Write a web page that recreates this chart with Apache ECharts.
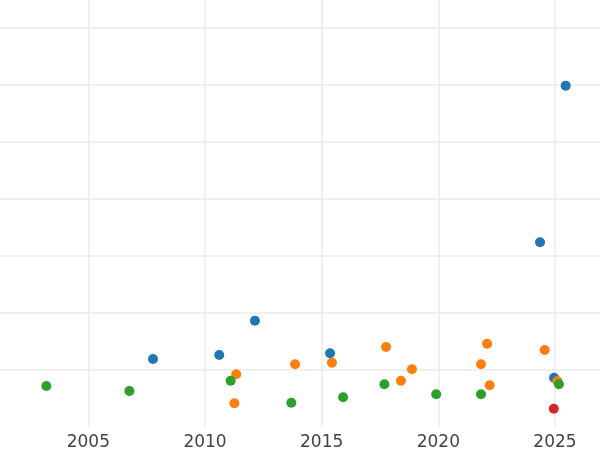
<!DOCTYPE html>
<html>
<head>
<meta charset="utf-8">
<style>html,body{margin:0;padding:0;background:#fff}#c{width:600px;height:450px}</style>
<script src="https://cdn.jsdelivr.net/npm/echarts@6/dist/echarts.min.js"></script>
</head>
<body>
<div id="c"></div>
<script>
const blueSeries = [[2007.77,1.193],[2010.61,1.263],[2012.14,1.865],[2015.36,1.293],[2024.36,3.240],[2025.46,5.988],[2024.96,0.865]];
const orangeSeries = [[2011.34,0.925],[2011.26,0.416],[2013.86,1.100],[2015.44,1.128],[2017.76,1.404],[2018.40,0.812],[2018.87,1.012],[2021.83,1.100],[2022.09,1.461],[2022.20,0.732],[2024.56,1.351],[2025.10,0.807]];
const greenSeries = [[2003.20,0.719],[2006.76,0.632],[2011.10,0.812],[2013.70,0.426],[2015.92,0.521],[2017.69,0.749],[2019.91,0.574],[2021.83,0.574],[2025.17,0.749]];
const redSeries = [[2024.95,0.321]];

const chart = echarts.init(document.getElementById('c'), null, {renderer:'canvas'});
const mk = (data, color) => ({type:'scatter', data, symbolSize:10, itemStyle:{color, opacity:1}, emphasis:{disabled:true}});
chart.setOption({
  animation:false,
  grid:{left:-28.3, right:0, top:0, bottom:23, containLabel:false, outerBoundsMode:'none'},
  xAxis:{type:'value', min:2000, max:2026.93, interval:5,
    axisLine:{show:false}, axisTick:{show:false},
    axisLabel:{color:'#444', fontSize:17, fontFamily:'DejaVu Sans', margin:7, showMaxLabel:false, formatter:v=>String(v)},
    splitLine:{show:true, showMinLine:false, showMaxLine:false, lineStyle:{color:'#ebebeb', width:1.5}}},
  yAxis:{type:'value', min:0, max:7.49, interval:1,
    axisLine:{show:false}, axisTick:{show:false}, axisLabel:{show:false},
    splitLine:{show:true, showMinLine:false, showMaxLine:false, lineStyle:{color:'#ebebeb', width:1.5}}},
  series:[mk(blueSeries,'#1f77b4'), mk(orangeSeries,'#ff7f0e'), mk(greenSeries,'#2ca02c'), mk(redSeries,'#d62728')]
});
</script>
</body>
</html>
